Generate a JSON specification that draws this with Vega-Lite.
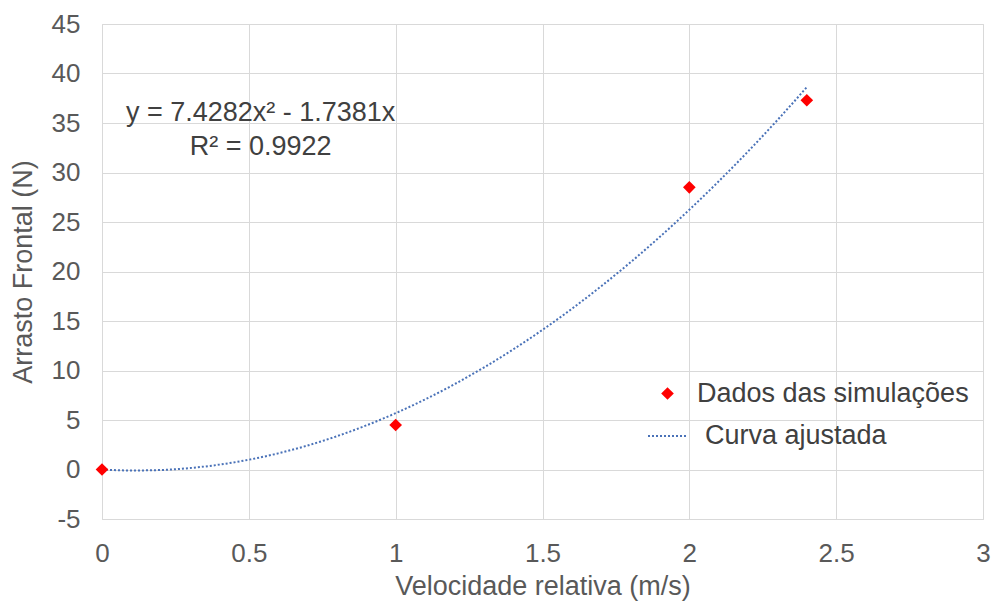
{
  "$schema": "https://vega.github.io/schema/vega-lite/v6.json",
  "autosize": {"type": "none"},
  "width": 881,
  "height": 495,
  "padding": {"left": 102, "top": 24, "right": 8, "bottom": 84},
  "background": "white",
  "config": {
    "font": "Liberation Sans",
    "view": {"stroke": "#D9D9D9", "strokeWidth": 1},
    "axis": {
      "labelFont": "Liberation Sans",
      "titleFont": "Liberation Sans",
      "labelFontSize": 26,
      "titleFontSize": 27,
      "labelColor": "#595959",
      "titleColor": "#595959",
      "titleFontWeight": "normal",
      "gridColor": "#D9D9D9",
      "gridWidth": 1,
      "domain": false,
      "ticks": false
    },
    "legend": {
      "labelFont": "Liberation Sans",
      "labelFontSize": 27,
      "labelColor": "#404040",
      "labelLimit": 0
    }
  },
  "datasets": {
    "simulacoes": [
      {"velocidade": 0, "arrasto": 0, "serie": "Dados das simulações"},
      {"velocidade": 1, "arrasto": 4.5, "serie": "Dados das simulações"},
      {"velocidade": 2, "arrasto": 28.5, "serie": "Dados das simulações"},
      {"velocidade": 2.4, "arrasto": 37.3, "serie": "Dados das simulações"}
    ],
    "curva": [
      {"velocidade": 0.0, "arrasto": 0.0, "serie": "Curva ajustada"},
      {"velocidade": 0.1, "arrasto": -0.0995, "serie": "Curva ajustada"},
      {"velocidade": 0.2, "arrasto": -0.0505, "serie": "Curva ajustada"},
      {"velocidade": 0.3, "arrasto": 0.1471, "serie": "Curva ajustada"},
      {"velocidade": 0.4, "arrasto": 0.4933, "serie": "Curva ajustada"},
      {"velocidade": 0.5, "arrasto": 0.988, "serie": "Curva ajustada"},
      {"velocidade": 0.6, "arrasto": 1.6313, "serie": "Curva ajustada"},
      {"velocidade": 0.7, "arrasto": 2.4231, "serie": "Curva ajustada"},
      {"velocidade": 0.8, "arrasto": 3.3636, "serie": "Curva ajustada"},
      {"velocidade": 0.9, "arrasto": 4.4526, "serie": "Curva ajustada"},
      {"velocidade": 1.0, "arrasto": 5.6901, "serie": "Curva ajustada"},
      {"velocidade": 1.1, "arrasto": 7.0762, "serie": "Curva ajustada"},
      {"velocidade": 1.2, "arrasto": 8.6109, "serie": "Curva ajustada"},
      {"velocidade": 1.3, "arrasto": 10.2941, "serie": "Curva ajustada"},
      {"velocidade": 1.4, "arrasto": 12.1259, "serie": "Curva ajustada"},
      {"velocidade": 1.5, "arrasto": 14.1063, "serie": "Curva ajustada"},
      {"velocidade": 1.6, "arrasto": 16.2352, "serie": "Curva ajustada"},
      {"velocidade": 1.7, "arrasto": 18.5127, "serie": "Curva ajustada"},
      {"velocidade": 1.8, "arrasto": 20.9388, "serie": "Curva ajustada"},
      {"velocidade": 1.9, "arrasto": 23.5134, "serie": "Curva ajustada"},
      {"velocidade": 2.0, "arrasto": 26.2366, "serie": "Curva ajustada"},
      {"velocidade": 2.1, "arrasto": 29.1084, "serie": "Curva ajustada"},
      {"velocidade": 2.2, "arrasto": 32.1287, "serie": "Curva ajustada"},
      {"velocidade": 2.3, "arrasto": 35.2975, "serie": "Curva ajustada"},
      {"velocidade": 2.4, "arrasto": 38.615, "serie": "Curva ajustada"}
    ],
    "equacao": [
      {"velocidade": 0.54, "arrasto": 36.0, "texto": "y = 7.4282x² - 1.7381x"},
      {"velocidade": 0.54, "arrasto": 32.6, "texto": "R² = 0.9922"}
    ]
  },
  "layer": [
    {
      "data": {"name": "curva"},
      "mark": {"type": "line", "color": "#4A72B8", "strokeWidth": 2, "interpolate": "monotone"},
      "encoding": {
        "x": {
          "field": "velocidade", "type": "quantitative",
          "scale": {"domain": [0, 3], "nice": false, "zero": false},
          "axis": {"values": [0, 0.5, 1, 1.5, 2, 2.5, 3], "title": "Velocidade relativa (m/s)", "labelPadding": 21, "titlePadding": 7, "labelFlush": false, "format": "~g"}
        },
        "y": {
          "field": "arrasto", "type": "quantitative",
          "scale": {"domain": [-5, 45], "nice": false, "zero": false},
          "axis": {"values": [-5, 0, 5, 10, 15, 20, 25, 30, 35, 40, 45], "title": "Arrasto Frontal (N)", "labelPadding": 22, "titlePadding": 14, "labelFlush": false, "labelExpr": "replace(datum.label, '−', '-')"}
        },
        "strokeDash": {
          "field": "serie", "type": "nominal",
          "scale": {"domain": ["Curva ajustada"], "range": [[2, 2]]},
          "legend": {"title": null, "orient": "none", "legendX": 545, "legendY": 391, "symbolType": "stroke", "symbolStrokeColor": "#4A72B8", "symbolStrokeWidth": 2, "symbolSize": 1600, "labelOffset": 16}
        }
      }
    },
    {
      "data": {"name": "simulacoes"},
      "mark": {"type": "point", "shape": "diamond", "filled": true, "size": 160, "opacity": 1},
      "encoding": {
        "x": {"field": "velocidade", "type": "quantitative"},
        "y": {"field": "arrasto", "type": "quantitative"},
        "color": {
          "field": "serie", "type": "nominal",
          "scale": {"domain": ["Dados das simulações"], "range": ["#FF0000"]},
          "legend": {"title": null, "orient": "none", "legendX": 552, "legendY": 356, "symbolType": "diamond", "symbolSize": 160, "labelOffset": 16}
        }
      }
    },
    {
      "data": {"name": "equacao"},
      "mark": {"type": "text", "font": "Liberation Sans", "fontSize": 27, "color": "#404040", "align": "center", "baseline": "middle"},
      "encoding": {
        "x": {"field": "velocidade", "type": "quantitative"},
        "y": {"field": "arrasto", "type": "quantitative"},
        "text": {"field": "texto"}
      }
    }
  ]
}
